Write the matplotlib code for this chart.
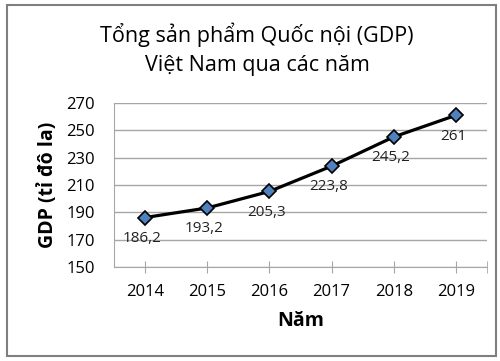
import matplotlib
matplotlib.use("Agg")
import matplotlib.pyplot as plt
from matplotlib.patches import Rectangle

years = ["2014", "2015", "2016", "2017", "2018", "2019"]
gdp = [186.2, 193.2, 205.3, 223.8, 245.2, 261]
labels = ["186,2", "193,2", "205,3", "223,8", "245,2", "261"]
yticks = [150, 170, 190, 210, 230, 250, 270]

plt.rcParams['font.family'] = ['Open Sans', 'DejaVu Sans']

fig = plt.figure(figsize=(5, 3.61), dpi=100)
W, H = 500, 361
ax = fig.add_axes([114 / W, 1 - 267 / H, (487 - 114) / W, (267 - 103) / H])

fig.patches.append(Rectangle((7 / W, 1 - 356 / H), (496 - 7) / W, (356 - 5) / H,
                             transform=fig.transFigure, fill=False,
                             edgecolor='#7f7f7f', linewidth=1.5))

x = list(range(len(years)))
ax.plot(x, gdp, color='black', linewidth=2.3, marker='D', markersize=7,
        markerfacecolor='#4f81bd', markeredgecolor='black', markeredgewidth=1.2, zorder=3)
for xi, yi, lab in zip(x, gdp, labels):
    ax.annotate(lab, (xi, yi), xytext=(-2, -15), textcoords='offset points',
                ha='center', va='center', fontsize=11, color='#222222')

ax.set_xlim(-0.5, 5.5)
ax.set_ylim(150, 270)
ax.set_yticks(yticks)
ax.set_yticklabels([str(v) for v in yticks], fontsize=12)
ax.set_xticks(x)
ax.set_xticklabels(years, fontsize=12)
ax.set_xticks([len(years) - 0.5], minor=True)
ax.grid(axis='y', color='#a6a6a6', linewidth=1)
ax.set_axisbelow(True)
for s in ['top', 'right']:
    ax.spines[s].set_visible(False)
ax.spines['left'].set_color('#a6a6a6')
ax.spines['bottom'].set_color('#a6a6a6')
ax.tick_params(axis='y', length=0, pad=14)
ax.tick_params(axis='x', which='both', length=8, direction='inout', color='#a6a6a6', pad=8)

ax.set_ylabel('GDP (tỉ đô la)', fontsize=14, fontweight='bold', labelpad=6)
ax.set_xlabel('Năm', fontsize=14, fontweight='bold', labelpad=8)

fig.text(257 / W, 1 - 35 / H, 'Tổng sản phẩm Quốc nội (GDP)', ha='center', va='center', fontsize=15.5)
fig.text(257 / W, 1 - 66 / H, 'Việt Nam qua các năm', ha='center', va='center', fontsize=15.5)

fig.savefig('out.png', dpi=100)
